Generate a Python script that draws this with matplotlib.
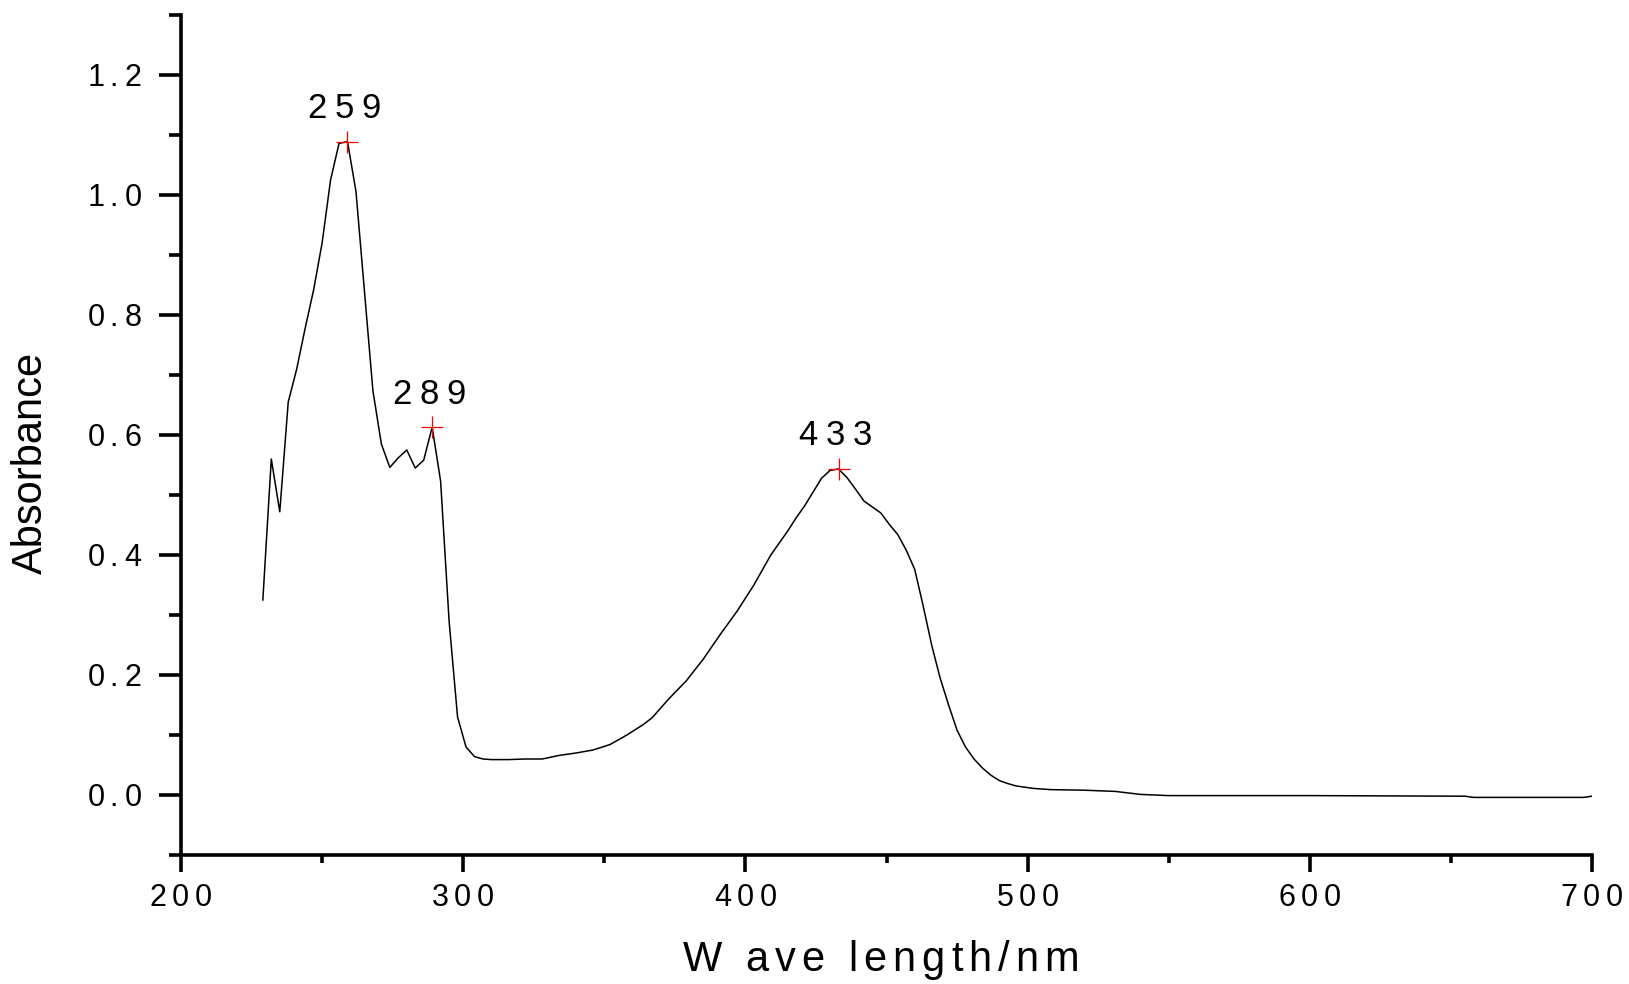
import matplotlib
matplotlib.use("Agg")
import matplotlib.pyplot as plt
from matplotlib.ticker import MultipleLocator, FuncFormatter

plt.rcParams['font.family'] = ['Liberation Sans', 'DejaVu Sans']

wavelength = [229, 232, 235, 238, 241, 244, 247, 250, 253, 256, 259, 262, 265, 268,
              271, 274, 277, 280, 283, 286, 289, 292, 295, 298, 301, 304, 307, 310,
              316, 322, 328, 334, 340, 346, 352, 358, 364, 367, 373, 379, 385, 391,
              397, 403, 409, 412, 415, 418, 421, 424, 427, 430, 433, 436, 439, 442,
              445, 448, 451, 454, 457, 460, 463, 466, 469, 472, 475, 478, 481, 484,
              487, 490, 493, 496, 502, 508, 520, 531, 540, 550, 600, 655, 658, 697, 700]
absorbance = [0.325, 0.560, 0.472, 0.655, 0.710, 0.778, 0.842, 0.920, 1.025, 1.086,
              1.089, 1.006, 0.840, 0.674, 0.585, 0.546, 0.562, 0.575, 0.545, 0.558,
              0.613, 0.523, 0.290, 0.130, 0.080, 0.064, 0.060, 0.059, 0.059, 0.060,
              0.060, 0.066, 0.070, 0.075, 0.084, 0.100, 0.118, 0.129, 0.161, 0.190,
              0.226, 0.267, 0.306, 0.350, 0.400, 0.420, 0.440, 0.462, 0.482, 0.505,
              0.528, 0.541, 0.5434, 0.529, 0.510, 0.490, 0.480, 0.470, 0.451, 0.434,
              0.408, 0.376, 0.315, 0.250, 0.195, 0.150, 0.108, 0.080, 0.060, 0.045,
              0.033, 0.024, 0.019, 0.015, 0.011, 0.009, 0.008, 0.006, 0.001, -0.001,
              -0.001, -0.002, -0.004, -0.004, -0.002]

peak_x = [259, 289, 433]
peak_y = [1.089, 0.613, 0.5434]
peak_labels = ["259", "289", "433"]

x_label = "W ave length/nm"
y_label = "Absorbance"


def track(s, em):
    sp = r"$\hspace{%g}$" % em
    out = ""
    for i, ch in enumerate(s):
        out += ch
        if i < len(s) - 1:
            out += sp
    return out


fig = plt.figure(figsize=(16.29, 9.84), dpi=100)
ax = fig.add_axes([181 / 1629, 1 - 855 / 984, (1592 - 181) / 1629, (855 - 15) / 984])

ax.plot(wavelength, absorbance, color='black', lw=1.1)
ax.plot(peak_x, peak_y, linestyle='none', marker='+', color='red',
        markersize=16, markeredgewidth=0.9)
for px, py, lab in zip(peak_x, peak_y, peak_labels):
    ax.annotate(track(lab, 0.24), (px, py), xytext=(-2, 17), textcoords='offset points',
                ha='center', va='baseline', fontsize=25)

ax.set_xlim(200, 700)
ax.set_ylim(-0.1, 1.3)
ax.xaxis.set_major_locator(MultipleLocator(100))
ax.xaxis.set_minor_locator(MultipleLocator(50))
ax.yaxis.set_major_locator(MultipleLocator(0.2))
ax.yaxis.set_minor_locator(MultipleLocator(0.1))
ax.xaxis.set_major_formatter(FuncFormatter(lambda v, p: track("%d" % round(v), 0.2)))
ax.yaxis.set_major_formatter(FuncFormatter(lambda v, p: track("%.1f" % (abs(v) if abs(v) < 1e-9 else v), 0.2)))

for s in ['top', 'right']:
    ax.spines[s].set_visible(False)
for s in ['left', 'bottom']:
    ax.spines[s].set_linewidth(2.6)

ax.tick_params(axis='x', which='major', direction='out', length=12, width=2.6,
               labelsize=22, pad=8)
ax.tick_params(axis='x', which='minor', direction='out', length=6, width=2.6)
ax.tick_params(axis='y', which='major', direction='out', length=16, width=2.6,
               labelsize=22, pad=12)
ax.tick_params(axis='y', which='minor', direction='out', length=8.5, width=2.6)

ax.set_xlabel(track(x_label, 0.15), fontsize=30, va='baseline')
ax.xaxis.set_label_coords((880 - 181) / 1411, (855 - 971) / 840)
ax.set_ylabel(y_label, fontsize=30, ha='center', va='center')
ax.yaxis.set_label_coords((31 - 181) / 1411, (855 - 463) / 840)

fig.savefig("out.png", dpi=100)
